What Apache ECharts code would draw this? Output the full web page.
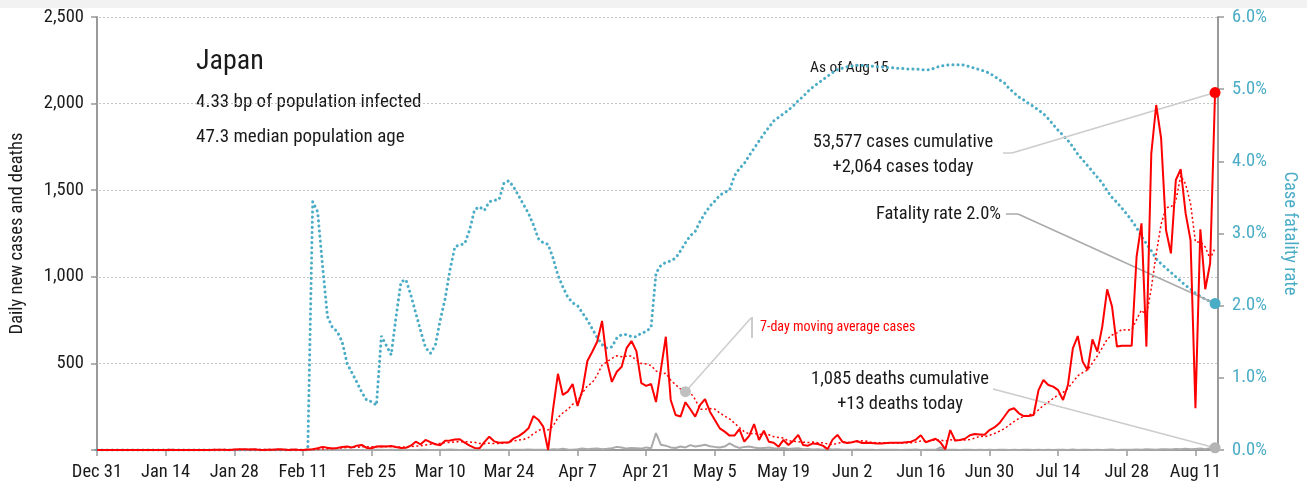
<!DOCTYPE html>
<html>
<head>
<meta charset="utf-8">
<script src="https://cdn.jsdelivr.net/npm/echarts@6/dist/echarts.min.js"></script>
<style>
html, body { margin: 0; padding: 0; background: #fff; }
#main { width: 1307px; height: 491px; }
</style>
</head>
<body>
<div id="main"></div>
<script>
// tick positions are day indexes counted from Dec 31
var tickDays = [0, 14, 28, 42, 56, 70, 84, 98, 112, 126, 140, 154, 168, 182, 196, 210, 224];
var tickLabels = ['Dec 31', 'Jan 14', 'Jan 28', 'Feb 11', 'Feb 25', 'Mar 10', 'Mar 24', 'Apr 7', 'Apr 21',
  'May 5', 'May 19', 'Jun 2', 'Jun 16', 'Jun 30', 'Jul 14', 'Jul 28', 'Aug 11'];

// daily new cases, Dec 31 .. Aug 15
var cases = [
  0,0,0,0,0,0,0,0,0,0,0,0,0,0,0,
  1,
  0,0,0,0,0,0,0,0,
  1,1,2,0,3,4,4,3,5,2,0,2,2,4,3,0,3,1,0,3,
  5,10,18,13,9,12,18,20,15,25,29,12,10,20,22,20,23,17,12,13,
  25,48,33,58,45,33,27,54,55,60,62,42,25,12,10,45,77,50,42,44,44,67,80,100,125,196,175,135,0,235,440,
  318,337,381,254,346,514,567,625,745,510,393,452,481,588,629,571,386,370,381,277,
  465,654,289,202,193,276,235,193,260,294,221,173,125,106,83,83,121,48,81,150,
  58,111,48,42,19,58,29,54,87,
  29,25,38,35,25,5,60,87,48,40,45,52,40,42,40,38,38,40,42,42,
  42,45,48,60,85,45,55,65,44,4,115,55,58,65,85,92,90,88,115,130,
  154,192,231,241,212,196,196,202,346,404,375,366,346,289,375,587,658,510,462,639,
  568,712,928,827,597,602,602,602,1116,1309,597,1713,1992,1800,1270,1135,1559,1621,1366,1212,
  241,1274,928,1078,2064
];

// 7-day moving average of cases
var casesAvg = [
  0,0,0,0,0,0,0,0,0,0,0,0,0,0,0,
  0.1,0.1,0.1,0.1,0.1,0.1,0.1,
  0,0,
  0.1,0.3,0.6,0.6,1.0,1.6,2.1,2.4,3.0,3.0,3.0,2.9,2.6,2.6,2.6,1.9,2.0,2.1,1.9,2.0,
  2.1,3.1,5.7,7.1,8.3,10.0,12.1,14.3,15.0,16.0,18.3,18.7,18.4,18.7,19.0,19.7,19.4,17.7,17.7,18.1,
  18.9,22.6,24.4,29.4,33.4,36.4,38.4,42.6,43.6,47.4,48.0,47.6,46.4,44.3,38.0,36.6,39.0,37.3,37.3,40.0,
  44.6,52.7,57.7,61.0,71.7,93.7,112,125,116,138,187,
  214,234,264,281,330,370,388,432,490,509,529,544,539,542,543,518,500,497,487,457,
  440,443,403,377,352,337,331,292,235,236,239,236,214,196,180,155,130,106,92.4,96.0,
  89.1,93.1,88.1,76.9,72.7,69.4,52.1,51.6,48.1,
  45.4,43.0,45.7,42.4,41.9,34.9,31.0,39.3,42.6,42.9,44.3,48.1,53.1,50.6,43.9,42.4,42.1,41.4,40.0,40.3,
  40.3,41.0,42.4,45.6,52.0,52.4,54.3,57.6,57.4,51.1,59.0,54.7,56.6,58.0,60.9,67.7,80.0,76.1,84.7,95.0,
  108,123,143,164,182,194,203,210,232,257,276,298,319,333,357,392,428,447,461,503,
  543,591,640,664,676,696,691,696,753,808,775,934,1133,1304,1400,1402,1438,1584,1535,1423,
  1201,1201,1172,1103,1166
];

// daily new deaths
var deaths = [
  0,0,0,0,0,0,0,0,0,0,0,0,0,0,0,0,0,0,0,0,0,0,0,0,0,0,0,0,0,0,0,0,0,0,0,0,0,0,0,0,0,0,0,0,
  1,0,0,0,0,0,1,0,1,0,0,0,0,1,2,0,1,1,1,0,
  0,0,1,1,0,0,2,1,3,2,0,2,1,1,0,2,2,1,2,1,0,2,1,2,3,1,2,1,0,5,3,
  8,3,2,4,9,5,7,8,5,7,10,18,14,8,12,10,8,15,10,98,
  30,25,15,12,20,15,28,20,25,30,22,18,15,20,38,22,12,18,20,14,
  10,12,14,10,8,12,6,8,10,
  5,6,3,4,2,6,3,4,2,1,2,3,1,2,1,0,1,2,1,1,
  0,2,1,3,0,1,2,1,15,2,1,1,0,2,1,0,1,0,1,0,
  2,1,0,1,0,2,1,0,1,0,1,0,2,1,0,3,0,1,2,0,
  1,0,2,3,0,2,1,2,3,2,4,3,2,5,4,3,6,5,7,4,
  6,8,5,10,13
];

// case fatality rate, percent
var fatality = [
  0,0,0,0,0,0,0,0,0,0,0,0,0,0,0,0,0,0,0,0,0,0,0,0,0,0,0,0,0,0,0,0,0,0,0,0,0,0,0,0,0,0,0,0,
  3.44,3.30,2.55,1.85,1.70,1.64,1.50,1.20,1.07,0.94,0.80,0.69,0.67,0.62,1.58,1.45,1.32,1.85,2.33,2.36,
  2.15,1.90,1.65,1.42,1.34,1.45,1.80,2.10,2.50,2.82,2.84,2.86,3.05,3.33,3.37,3.32,3.44,3.46,3.47,3.70,
  3.73,3.64,3.52,3.40,3.28,3.12,2.93,2.87,2.85,2.66,2.42,
  2.26,2.12,2.04,2.00,1.90,1.80,1.68,1.56,1.46,1.41,1.43,1.55,1.60,1.60,1.57,1.57,1.62,1.64,1.70,2.45,
  2.56,2.60,2.62,2.66,2.76,2.87,2.97,3.03,3.17,3.28,3.38,3.45,3.53,3.57,3.60,3.80,3.90,3.97,4.08,4.18,
  4.28,4.38,4.47,4.56,4.61,4.66,4.71,4.77,4.84,
  4.90,4.97,5.03,5.08,5.13,5.18,5.23,5.27,5.29,5.31,5.32,5.33,5.33,5.32,5.32,5.31,5.31,5.30,5.30,5.29,
  5.29,5.28,5.28,5.28,5.27,5.27,5.27,5.30,5.32,5.33,5.34,5.34,5.34,5.33,5.31,5.29,5.27,5.25,5.22,5.18,
  5.13,5.09,5.01,4.95,4.89,4.85,4.80,4.76,4.71,4.66,4.59,4.51,4.43,4.36,4.29,4.20,4.10,4.02,3.94,3.86,
  3.78,3.70,3.59,3.50,3.43,3.35,3.27,3.18,3.08,2.96,2.86,2.76,2.65,2.58,2.52,2.46,2.40,2.34,2.28,2.23,
  2.17,2.13,2.09,2.06,2.03
];

var avgMarkDay = 120;

var FONT = '"Liberation Sans Narrow", "Roboto Condensed", "DejaVu Sans Condensed", Roboto, sans-serif';
var RED = '#ff0000';
var TEAL = '#4bacc6';
var GREY = '#aaaaaa';
var AXIS = '#9a9a9a';
var INK = '#1a1a1a';

function pairs(arr) {
  return arr.map(function (v, i) { return [i, v]; });
}

var last = cases.length - 1;

// thin connector from an annotation to its point
function leader(points, color) {
  return {
    silent: true,
    symbol: ['none', 'none'],
    label: { show: false },
    emphasis: { disabled: true },
    lineStyle: { color: color || '#cccccc', width: 1.5, type: 'solid' },
    data: points
  };
}

function endDot(coord, color) {
  return {
    silent: true,
    symbol: 'circle',
    symbolSize: 11,
    label: { show: false },
    itemStyle: { color: color },
    data: [{ coord: coord }]
  };
}

function txt(text, x, y, size, color, align) {
  return {
    type: 'text', x: x, y: y, silent: true,
    style: {
      text: text, fill: color || INK, align: align || 'left', verticalAlign: 'middle',
      font: size + 'px ' + FONT
    }
  };
}

var myChart = echarts.init(document.getElementById('main'));

myChart.setOption({
  animation: false,
  backgroundColor: '#ffffff',
  grid: { left: 95, right: 89, top: 17, bottom: 41, containLabel: false },
  xAxis: {
    type: 'value',
    min: -0.4,
    max: 228.6,
    axisLine: { show: true, lineStyle: { color: AXIS, width: 2 } },
    axisTick: { show: true, customValues: tickDays, length: 6, lineStyle: { color: AXIS, width: 1.5 } },
    axisLabel: {
      customValues: tickDays,
      formatter: function (v) { return tickLabels[tickDays.indexOf(Math.round(v))] || ''; },
      color: INK, fontSize: 18.5, fontFamily: FONT, margin: 13
    },
    splitLine: { show: false }
  },
  yAxis: [
    {
      type: 'value', min: 0, max: 2500, interval: 500, position: 'left',
      name: 'Daily new cases and deaths', nameLocation: 'middle', nameRotate: 90, nameGap: 68,
      nameTextStyle: { color: INK, fontSize: 18.5, fontFamily: FONT },
      axisLine: { show: true, lineStyle: { color: AXIS, width: 2 } },
      axisTick: { show: true, length: 6, lineStyle: { color: AXIS, width: 1.5 } },
      axisLabel: {
        formatter: function (v) { return v === 0 ? '' : v.toLocaleString('en-US'); },
        color: INK, fontSize: 18.5, fontFamily: FONT, margin: 11
      },
      splitLine: { show: true, lineStyle: { color: '#c4c4c4', type: [2, 2], width: 1 } }
    },
    {
      type: 'value', min: 0, max: 6, interval: 1, position: 'right',
      name: 'Case fatality rate', nameLocation: 'middle', nameRotate: -90, nameGap: 62,
      nameTextStyle: { color: TEAL, fontSize: 18.5, fontFamily: FONT },
      axisLine: { show: true, lineStyle: { color: AXIS, width: 2 } },
      axisTick: { show: true, length: 6, lineStyle: { color: AXIS, width: 1.5 } },
      axisLabel: {
        formatter: function (v) { return v.toFixed(1) + '%'; },
        color: TEAL, fontSize: 18.5, fontFamily: FONT, margin: 14
      },
      splitLine: { show: false }
    }
  ],
  series: [
    {
      name: 'Deaths', type: 'line', yAxisIndex: 0, data: pairs(deaths),
      showSymbol: false, z: 2,
      lineStyle: { color: GREY, width: 2 },
      markPoint: endDot([last, deaths[last]], '#b4b4b4'),
      markLine: leader([[{ x: 993, y: 389 }, { coord: [last, deaths[last]] }]])
    },
    {
      name: 'Case fatality rate', type: 'line', yAxisIndex: 1, data: pairs(fatality),
      showSymbol: false, z: 3,
      lineStyle: { color: TEAL, width: 3, type: [0.1, 5], cap: 'round' },
      markPoint: endDot([last, fatality[last]], TEAL),
      markLine: leader([
        [{ x: 1006, y: 214 }, { x: 1018, y: 214 }],
        [{ x: 1018, y: 214 }, { coord: [last, fatality[last]] }]
      ], '#aaaaaa')
    },
    {
      name: '7-day moving average cases', type: 'line', yAxisIndex: 0, data: pairs(casesAvg),
      showSymbol: false, z: 4,
      lineStyle: { color: RED, width: 1.5, type: [2, 2.5] },
      markPoint: endDot([avgMarkDay, casesAvg[avgMarkDay]], '#c0c0c0'),
      markLine: leader([[{ x: 751, y: 318 }, { coord: [avgMarkDay, casesAvg[avgMarkDay]] }]])
    },
    {
      name: 'Cases', type: 'line', yAxisIndex: 0, data: pairs(cases),
      showSymbol: false, z: 5,
      lineStyle: { color: RED, width: 2 },
      markPoint: endDot([last, cases[last]], RED),
      markLine: leader([
        [{ x: 1003, y: 153 }, { x: 1012, y: 153 }],
        [{ x: 1012, y: 153 }, { coord: [last, cases[last]] }]
      ])
    }
  ],
  graphic: [
    { type: 'rect', silent: true, z: -10, shape: { x: 0, y: 0, width: 1307, height: 8 }, style: { fill: '#f2f2f2' } },
    txt('Japan', 196, 62, 28),
    txt('4.33 bp of population infected', 196, 102, 19),
    txt('47.3 median population age', 196, 137, 19),
    txt('As of Aug 15', 810, 68, 15.5),
    txt('53,577 cases cumulative', 903, 142, 18.5, INK, 'center'),
    txt('+2,064 cases today', 903, 167, 18.5, INK, 'center'),
    txt('Fatality rate 2.0%', 1001, 214, 18.5, INK, 'right'),
    txt('1,085 deaths cumulative', 900, 379, 18.5, INK, 'center'),
    txt('+13 deaths today', 900, 404, 18.5, INK, 'center'),
    txt('7-day moving average cases', 760, 327, 14, RED),
    { type: 'line', silent: true, shape: { x1: 752, y1: 317, x2: 752, y2: 338 }, style: { stroke: '#cccccc', lineWidth: 2 } }
  ]
});
</script>
</body>
</html>
